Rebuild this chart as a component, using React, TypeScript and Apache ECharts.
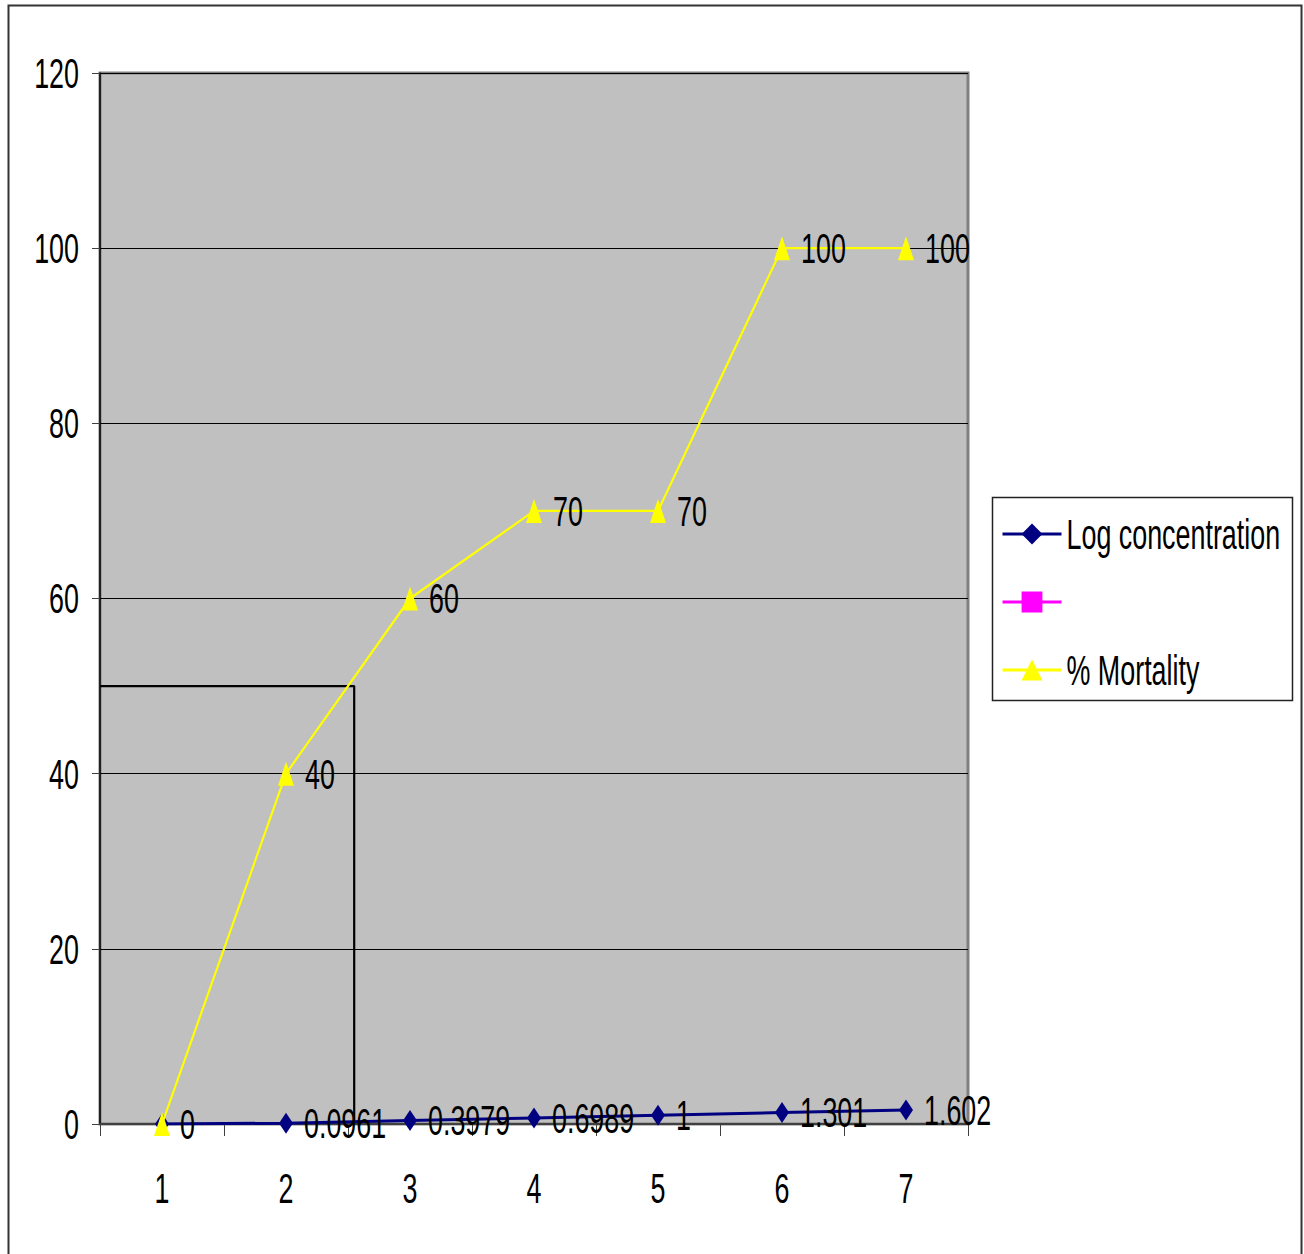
import React, { useEffect, useRef } from "react";
import * as echarts from "echarts";

const categories = ["1", "2", "3", "4", "5", "6", "7"];
const logConcentration = [0, 0.0961, 0.3979, 0.6989, 1, 1.301, 1.602];
const blankSeries: (number | null)[] = [null, null, null, null, null, null, null];
const mortality = [0, 40, 60, 70, 70, 100, 100];
const yTicks = { min: 0, max: 120, interval: 20 };
// LC50 guide lines in (category position, value) space
const guideLine: [number, number][] = [
  [0.5, 50],
  [2.55, 50],
  [2.55, 0],
];

const FONT = "'Liberation Sans', Arial, sans-serif";
const FONT_SIZE = 42;
const NARROW = 0.64; // horizontal squeeze of the tall, narrow lettering

export default function App() {
  const ref = useRef<HTMLDivElement>(null);
  useEffect(() => {
    if (!ref.current) return;
    const el = ref.current;
    const chart = echarts.init(el, undefined, { renderer: "svg" });
    const labelStyle = {
      show: true,
      position: "right" as const,
      distance: 11,
      color: "#000",
      fontSize: FONT_SIZE,
      fontFamily: FONT,
    };
    chart.setOption({
      animation: false,
      backgroundColor: "#fff",
      textStyle: { fontFamily: FONT },
      grid: {
        left: 100,
        top: 73,
        width: 868,
        height: 1051,
        show: true,
        backgroundColor: "#C0C0C0",
        borderColor: "#808080",
        borderWidth: 3,
        containLabel: false,
      },
      legend: {
        data: ["Log concentration", " ", "% Mortality"],
        orient: "vertical",
        left: 996,
        top: 508,
        padding: 5,
        itemWidth: 59,
        itemHeight: 26,
        itemGap: 26,
        lineStyle: { width: 3 },
        textStyle: { fontSize: FONT_SIZE, fontFamily: FONT, color: "#000" },
        selectedMode: false,
      },
      graphic: [
        {
          type: "rect",
          shape: { x: 8.5, y: 5.5, width: 1293, height: 1300 },
          style: { fill: "none", stroke: "#333", lineWidth: 2 },
          silent: true,
          z: 100,
        },
        {
          type: "rect",
          shape: { x: 992.5, y: 497.5, width: 300, height: 203 },
          style: { fill: "none", stroke: "#222", lineWidth: 1.5 },
          silent: true,
          z: 100,
        },
      ],
      xAxis: [
        {
          type: "category",
          data: categories,
          boundaryGap: true,
          axisLine: { show: true, lineStyle: { color: "#404040", width: 2 } },
          axisTick: { show: true, length: 12, lineStyle: { color: "#404040", width: 1 } },
          axisLabel: { color: "#000", fontSize: FONT_SIZE, fontFamily: FONT, margin: 43 },
          splitLine: { show: false },
        },
        {
          type: "value",
          min: 0.5,
          max: 7.5,
          show: false,
          position: "bottom",
        },
      ],
      yAxis: {
        type: "value",
        min: yTicks.min,
        max: yTicks.max,
        interval: yTicks.interval,
        axisLine: { show: true, lineStyle: { color: "#000", width: 1.5 } },
        axisTick: { show: true, length: 8, lineStyle: { color: "#404040" } },
        axisLabel: { color: "#000", fontSize: FONT_SIZE, fontFamily: FONT, margin: 21 },
        splitLine: { show: true, lineStyle: { color: "#000", width: 1 } },
      },
      series: [
        {
          name: "guide",
          type: "line",
          xAxisIndex: 1,
          data: guideLine,
          symbol: "none",
          lineStyle: { color: "#000", width: 2.2 },
          z: 1,
          silent: true,
        },
        {
          name: "Log concentration",
          type: "line",
          data: logConcentration,
          symbol: "diamond",
          symbolSize: [14, 21],
          itemStyle: { color: "#000080" },
          lineStyle: { color: "#000080", width: 3 },
          label: labelStyle,
          z: 3,
        },
        {
          name: " ",
          type: "line",
          data: blankSeries,
          symbol: "rect",
          symbolSize: 12,
          itemStyle: { color: "#FF00FF" },
          lineStyle: { color: "#FF00FF", width: 3 },
          z: 3,
        },
        {
          name: "% Mortality",
          type: "line",
          data: mortality,
          symbol: "triangle",
          symbolSize: [16, 24],
          itemStyle: { color: "#FFFF00" },
          lineStyle: { color: "#FFFF00", width: 2.2 },
          label: {
            ...labelStyle,
            formatter: (p: any) => (p.dataIndex === 0 ? "" : String(p.value)),
          },
          z: 4,
        },
      ],
    });

    // squeeze every text horizontally about its own anchor point
    const narrow = () => {
      el.querySelectorAll("svg text").forEach((t) => {
        const cur = t.getAttribute("transform") || "";
        if ((t as any).dataset.narrowed === cur) return;
        const x = parseFloat(t.getAttribute("x") || "0") || 0;
        const y = parseFloat(t.getAttribute("y") || "0") || 0;
        const next = `${cur} translate(${x} ${y}) scale(${NARROW} 1) translate(${-x} ${-y})`.trim();
        t.setAttribute("transform", next);
        (t as any).dataset.narrowed = next;
      });
    };
    narrow();
    chart.on("finished", narrow);
    return () => chart.dispose();
  }, []);
  return (
    <div
      ref={ref}
      style={{ position: "fixed", left: 0, top: 0, width: 1304, height: 1254 }}
    />
  );
}
